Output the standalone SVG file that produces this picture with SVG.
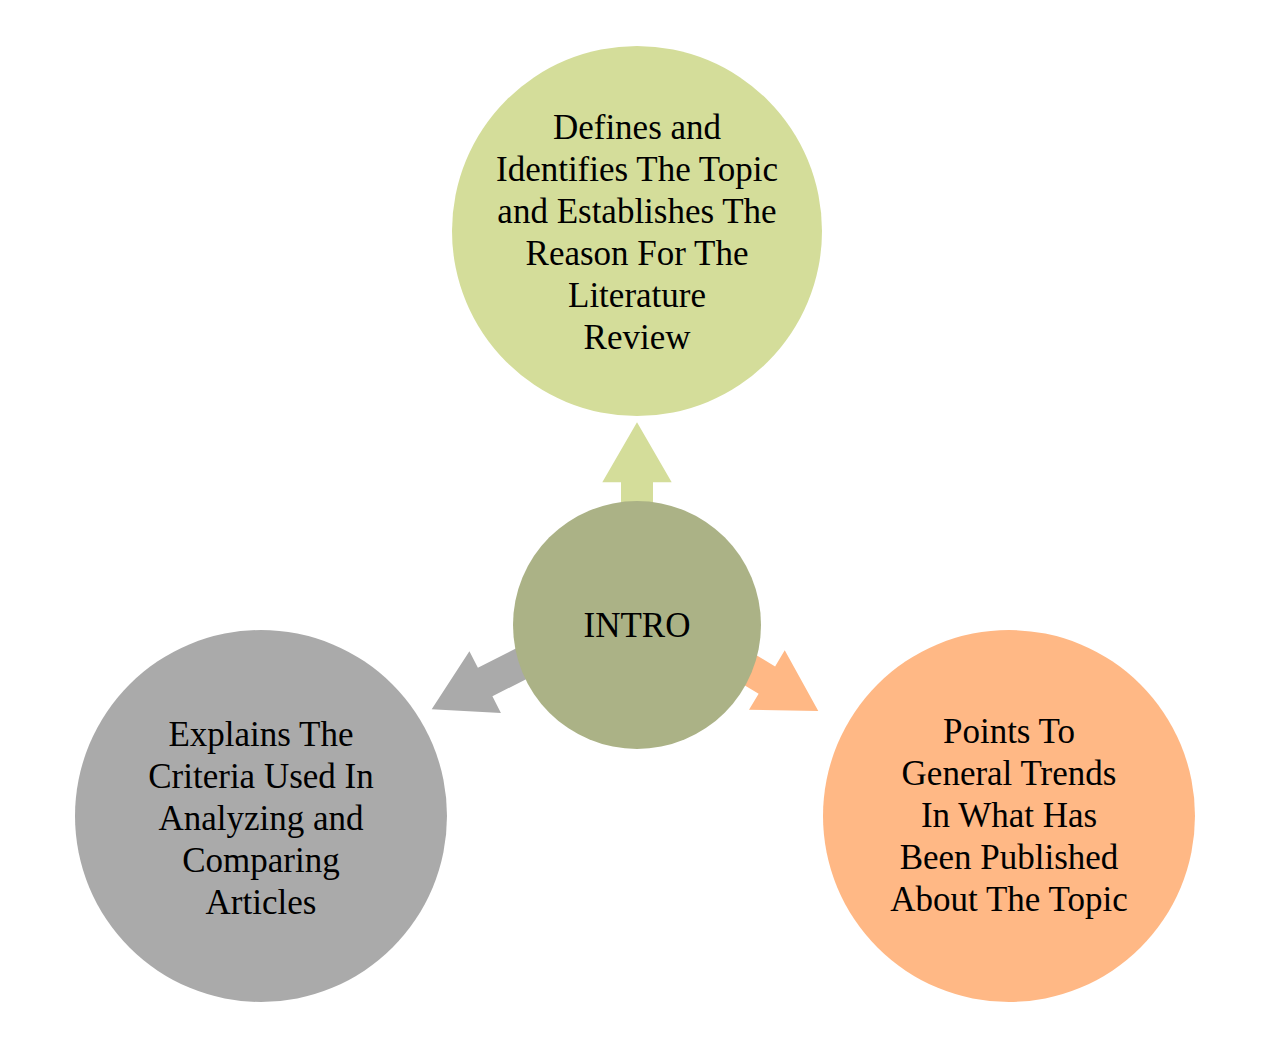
<svg xmlns="http://www.w3.org/2000/svg" width="1274" height="1047" viewBox="0 0 1274 1047">
<defs>
<style>
text{font-family:"Liberation Serif","Times New Roman",serif;font-size:35px;fill:#000;text-anchor:middle}
</style>
<polygon id="arr" points="0,0 -60,-34.7 -60,-16 -140,-16 -140,16 -60,16 -60,34.7"/>
</defs>
<rect width="1274" height="1047" fill="#fff"/>
<g id="connectors">
<use href="#arr" fill="#d4dd9a" transform="translate(637,422.3) rotate(-90)"/>
<use href="#arr" fill="#aaaaaa" transform="translate(431.7,709.3) rotate(153)"/>
<use href="#arr" fill="#ffb885" transform="translate(818.3,711) rotate(31)"/>
</g>
<g id="intro">
<circle cx="637" cy="625" r="124" fill="#abb286"/>
<text x="637" y="637">INTRO</text>
</g>
<g id="defines">
<circle cx="637" cy="231" r="185" fill="#d4dd9a"/>
<text x="637" y="139">Defines and</text>
<text x="637" y="181">Identifies The Topic</text>
<text x="637" y="223">and Establishes The</text>
<text x="637" y="265">Reason For The</text>
<text x="637" y="307">Literature</text>
<text x="637" y="349">Review</text>
</g>
<g id="explains">
<circle cx="261" cy="816" r="186" fill="#aaaaaa"/>
<text x="261" y="746">Explains The</text>
<text x="261" y="788">Criteria Used In</text>
<text x="261" y="830">Analyzing and</text>
<text x="261" y="872">Comparing</text>
<text x="261" y="914">Articles</text>
</g>
<g id="points">
<circle cx="1009" cy="816" r="186" fill="#ffb885"/>
<text x="1009" y="743">Points To</text>
<text x="1009" y="785">General Trends</text>
<text x="1009" y="827">In What Has</text>
<text x="1009" y="869">Been Published</text>
<text x="1009" y="911">About The Topic</text>
</g>
</svg>
